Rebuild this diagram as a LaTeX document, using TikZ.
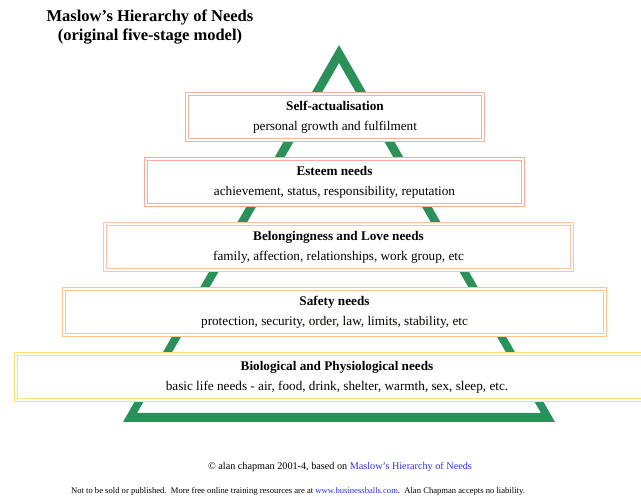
\documentclass[tikz,border=0pt]{standalone}
\usepackage{fontspec}
\setmainfont{Liberation Serif}
\definecolor{tri}{RGB}{42,145,88}
\definecolor{cA}{RGB}{240,180,160}
\definecolor{cB}{RGB}{255,170,150}
\definecolor{cC}{RGB}{255,195,165}
\definecolor{cD}{RGB}{255,195,140}
\definecolor{cE}{RGB}{255,225,110}
\definecolor{lnk}{RGB}{50,50,230}
\tikzset{
  lvl/.style={draw=#1, double=white, double distance=2.2pt, line width=1pt, fill=white,
    inner sep=0pt, align=center, font=\fontsize{13.2}{20}\selectfont},
  ttl/.style={align=center, font=\bfseries\fontsize{16.5}{19.5}\selectfont},
  foot/.style={font=\fontsize{8.6}{10}\selectfont, inner sep=0pt}
}
\begin{document}
\begin{tikzpicture}[x=1pt,y=-1pt]
\useasboundingbox[fill=white] (0,0) rectangle (641,497);
\node[ttl] (title) at (150,27) {Maslow's Hierarchy of Needs\\(original five-stage model)};
\fill[tri,even odd rule] (339,45) -- (123,422) -- (555,422) -- cycle
  (339,63) -- (137,413) -- (541,413) -- cycle;
\node[lvl=cA, minimum width=295.8pt, minimum height=45.8pt] (self) at (335,117)
  {\textbf{Self-actualisation}\\personal growth and fulfilment};
\node[lvl=cB, minimum width=376.8pt, minimum height=45.8pt] (esteem) at (334.5,182)
  {\textbf{Esteem needs}\\achievement, status, responsibility, reputation};
\node[lvl=cC, minimum width=466.8pt, minimum height=45.8pt] (belong) at (338.5,247)
  {\textbf{Belongingness and Love needs}\\family, affection, relationships, work group, etc};
\node[lvl=cD, minimum width=540.8pt, minimum height=45.8pt] (safety) at (334.5,312)
  {\textbf{Safety needs}\\protection, security, order, law, limits, stability, etc};
\node[lvl=cE, minimum width=641.8pt, minimum height=45.8pt] (bio) at (337,377)
  {\textbf{Biological and Physiological needs}\\basic life needs - air, food, drink, shelter, warmth, sex, sleep, etc.};
\node[foot, font=\fontsize{10.2}{12}\selectfont] (f1) at (340,467) {© alan chapman 2001-4, based on \textcolor{lnk}{Maslow's Hierarchy of Needs}};
\node[foot] (f2) at (298,491) {Not to be sold or published.\ \ More free online training resources are at \textcolor{lnk}{www.businessballs.com}.\ \ Alan Chapman accepts no liability.};
\end{tikzpicture}
\end{document}
